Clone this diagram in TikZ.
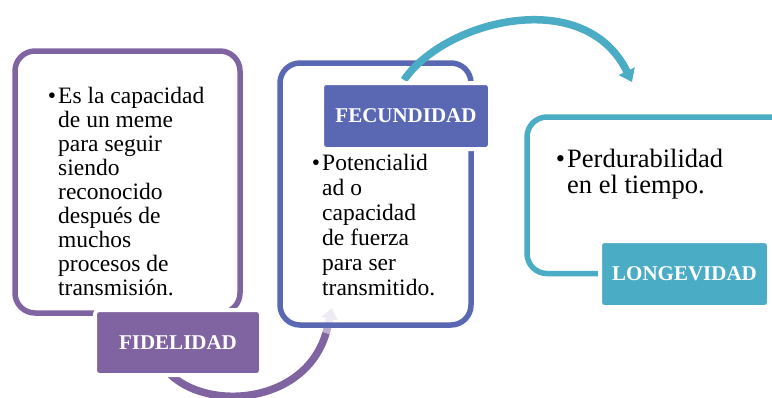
\documentclass[tikz,border=0pt]{standalone}
\usepackage{fontspec}
\setmainfont{Liberation Serif}
\usetikzlibrary{arrows.meta}
\definecolor{purp}{HTML}{8064A2}
\definecolor{blu}{HTML}{5A68B3}
\definecolor{tealc}{HTML}{4BACC6}
\definecolor{lav}{HTML}{EFEBF5}
\newcommand{\bul}{\leavevmode\llap{•\hspace{2pt}}}
\begin{document}
\begin{tikzpicture}[x=1pt,y=-1pt,
  frame/.style={line width=5.5pt, rounded corners=20pt, inner sep=0pt, outer sep=0pt},
  lab/.style={draw=white, line width=4pt, rounded corners=4pt, text=white, inner sep=0pt,
              font=\fontsize{21}{21}\selectfont\bfseries},
  txt/.style={anchor=base west, inner sep=0pt},
  arc/.style={line width=7.5pt}]
\useasboundingbox (0,0) rectangle (772,397);
\fill[white] (0,0) rectangle (772,397);

% coordinates for connectors
\coordinate (p0) at (168,372);
\coordinate (p1) at (326,333);
\coordinate (pm) at (328,326);
\coordinate (p2) at (332,308);
\coordinate (t0) at (404,80);
\coordinate (t1) at (632,82);

% purple connector (fades toward its head)
\draw[arc, purp] (p0) .. controls (205,412) and (305,405) .. (p1);
\draw[arc, purp!45!lav] (p1) -- (pm);
\draw[arc, lav, -{Triangle[width=16pt,length=11pt]}] (pm) -- (p2);

% boxes
\node[frame, draw=purp, minimum width=225pt, minimum height=262pt] (b1) at (127.5,182) {};
\node[frame, draw=blu, minimum width=191pt, minimum height=262pt] (b2) at (375.5,194) {};
\begin{scope}
  \clip (0,0) -| (772,238) -| (767,397) -| cycle;
  \node[frame, draw=tealc, minimum width=266pt, minimum height=156.5pt] (b3) at (660,195.25) {};
\end{scope}

% teal connector
\draw[arc, tealc, -{Triangle[width=17pt,length=12pt]}] (t0) .. controls (445,20) and (585,-15) .. (t1);

% labels
\node[lab, fill=purp, minimum width=166pt, minimum height=65pt] (l1) at (178,342.5) {FIDELIDAD};
\node[lab, fill=blu, minimum width=168pt, minimum height=66pt] (l2) at (406,116) {FECUNDIDAD};
\node[lab, fill=tealc, minimum width=169pt, minimum height=66pt] (l3) at (684.5,274) {LONGEVIDAD};

% texts
\node[txt] (x1) at (58,103) {\fontsize{23.5}{24}\selectfont\parbox[t]{180pt}{%
\bul Es la capacidad\\de un meme\\para seguir\\siendo\\reconocido\\después de\\muchos\\procesos de\\transmisión.}};
\node[txt] (x2) at (322,170) {\fontsize{23.5}{25}\selectfont\parbox[t]{150pt}{%
\bul Potencialid\\ad o\\capacidad\\de fuerza\\para ser\\transmitido.}};
\node[txt] (x3) at (567,167) {\fontsize{26.5}{26.5}\selectfont\parbox[t]{190pt}{%
\bul Perdurabilidad\\en el tiempo.}};
\end{tikzpicture}
\end{document}
